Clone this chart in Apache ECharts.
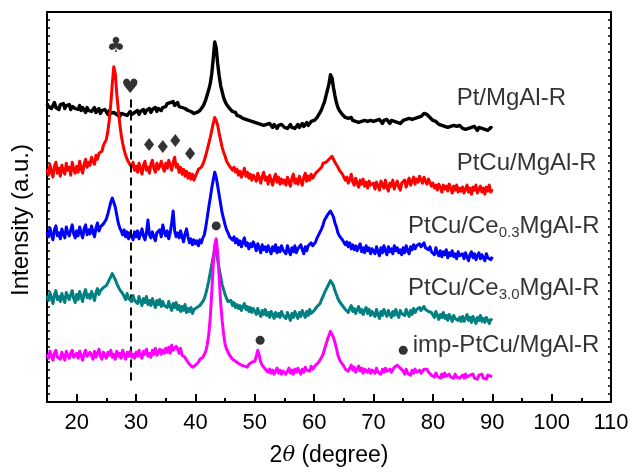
<!DOCTYPE html>
<html><head><meta charset="utf-8">
<script src="https://cdn.jsdelivr.net/npm/echarts@6/dist/echarts.min.js"></script>
<style>html,body{margin:0;padding:0;background:#fff}#c{width:632px;height:472px}</style>
</head><body><div id="c"></div>
<script>
// 2θ sampling grid: 15 .. 90 step 0.25 (301 points); each row below = 5 degrees
const thetaStart = 15, thetaStep = 0.25, nPts = 301;
const twoTheta = [];
for (let i = 0; i < nPts; i++) twoTheta.push(+(thetaStart + thetaStep * i).toFixed(2));

const seriesNames = ['Pt/MgAl-R', 'PtCu/MgAl-R', 'PtCu/Ce0.3MgAl-R', 'PtCu/Ce3.0MgAl-R', 'imp-PtCu/MgAl-R'];
const seriesColors = ['#000000', '#ff0000', '#0000ff', '#008080', '#ff00ff'];
const seriesWidths = [3.4, 3, 3, 3, 3];

const ptMgAl = [
300,297,299,295,298,301,296,298,294,299,297,300,295,298,296,299,294,297,299,295,
297,294,298,293,296,294,291,296,293,295,292,294,296,291,293,295,290,293,291,294,
292,289,293,290,288,291,293,289,291,287,290,292,289,291,288,290,292,289,287,291,
290,293,289,292,291,294,290,293,292,295,291,294,293,296,292,295,297,293,296,298,
297,300,298,301,299,302,298,300,301,297,299,296,298,295,297,293,295,292,294,290,
289,291,290,293,295,297,300,304,309,314,320,330,345,362,356,340,328,318,312,306,
302,299,297,295,294,292,290,291,288,289,287,288,285,287,284,286,283,285,282,284,
281,283,280,282,279,281,278,280,279,277,280,278,276,279,277,275,278,276,279,277,
276,278,275,277,279,276,278,275,277,279,276,278,280,277,279,281,278,280,282,281,
283,284,286,288,291,294,298,302,308,314,320,329,326,316,308,301,296,293,291,289,
288,286,287,285,284,286,283,285,282,284,281,283,282,280,283,281,282,280,283,281,
282,280,283,281,284,282,280,283,281,284,282,280,283,281,282,284,281,283,280,282,
283,281,284,282,285,283,284,286,285,287,286,288,287,289,290,288,289,287,286,284,
283,281,282,280,279,281,278,280,277,279,276,278,277,275,278,276,277,275,278,276,
275,277,274,276,275,273,276,274,277,275,273,276,274,275,277,274,276,273,275,276,
275];

const ptCuMgAl = [
234,228,239,231,226,237,241,230,235,227,238,232,229,240,233,236,228,241,234,230,
237,231,242,235,230,239,244,236,241,238,246,242,239,248,244,250,248,252,258,260,
264,272,284,300,320,337,330,310,294,280,268,260,253,248,244,241,239,236,241,233,
237,231,240,234,229,238,242,233,236,230,239,243,235,231,240,234,237,242,236,232,
240,235,243,238,233,241,246,236,239,231,236,229,234,227,232,225,230,224,229,223,
227,230,234,232,236,239,243,248,254,260,266,273,280,286,283,278,270,263,256,251,
247,242,240,237,239,233,236,231,234,228,232,226,230,235,227,231,225,229,223,228,
228,222,230,225,220,227,231,223,226,219,228,223,218,225,229,221,226,219,224,220,
223,218,226,221,217,225,229,220,224,219,227,222,218,226,230,222,227,223,229,225,
227,230,229,233,232,236,240,238,241,243,244,246,247,245,241,239,236,233,232,229,
228,223,226,220,224,229,221,218,225,220,216,223,219,224,217,221,215,222,218,220,
220,214,221,217,213,222,218,215,223,216,212,220,217,223,214,219,222,216,213,220,
218,223,216,221,225,218,222,226,219,224,221,227,223,220,226,222,219,224,221,217,
220,215,218,213,219,216,211,218,214,217,212,219,215,210,217,213,218,211,215,212,
216,210,214,218,211,215,209,216,213,218,210,214,217,211,215,209,216,212,218,211,
214];

const ptCuCe03 = [
171,166,175,168,163,173,177,167,170,164,174,169,165,176,170,167,173,178,169,165,
172,167,176,170,165,174,178,168,173,169,177,171,166,175,180,172,176,174,179,177,
184,189,195,201,205,203,196,188,180,175,172,168,173,166,171,164,170,167,163,171,
166,172,164,169,174,167,163,170,183,168,165,171,166,162,170,168,173,166,178,171,
167,172,164,170,180,192,172,166,170,165,172,166,161,169,174,166,160,164,158,163,
159,162,157,163,160,165,168,176,186,196,205,215,223,231,226,217,208,199,190,184,
178,173,170,166,168,163,166,160,164,158,162,156,161,165,157,160,154,159,156,161,
157,152,159,155,150,158,153,156,151,157,153,149,156,152,158,150,155,151,157,153,
154,149,157,152,148,155,151,157,150,154,152,158,153,149,156,152,157,155,160,157,
159,161,165,168,170,174,178,183,185,188,189,192,190,186,180,176,170,167,165,163,
163,158,161,156,160,154,158,153,157,152,156,159,151,155,150,157,152,155,149,154,
154,149,156,151,147,155,150,157,152,148,156,151,154,149,157,152,155,150,153,148,
155,150,157,152,149,156,153,158,154,157,155,159,156,158,160,155,157,153,156,151,
153,148,155,150,147,152,146,151,148,153,145,150,147,152,146,149,144,151,147,145,
149,144,150,146,142,148,151,145,149,143,147,150,144,148,146,142,149,145,147,143,
146];

const ptCuCe30 = [
107,102,110,104,99,108,112,103,106,101,109,104,100,110,106,103,108,112,104,100,
108,103,111,106,101,109,113,105,108,104,111,107,102,110,114,108,112,110,115,113,
117,120,122,126,129,127,123,119,116,113,111,109,108,103,109,104,106,101,107,102,
103,99,106,101,97,104,100,106,98,102,97,104,99,95,102,98,103,96,101,97,
99,95,101,96,92,99,95,100,93,97,91,96,92,98,90,94,91,95,89,93,
92,95,93,97,98,101,104,109,115,122,130,138,146,154,150,143,134,126,118,113,
108,104,101,99,102,97,100,95,98,94,97,92,96,99,93,96,91,95,90,94,
92,88,94,89,86,92,88,93,87,90,85,91,88,84,90,86,89,85,91,87,
88,84,90,86,82,89,85,91,87,84,90,86,92,88,85,91,87,93,89,91,
92,94,96,98,99,103,106,110,112,116,119,122,120,117,112,108,104,101,99,97,
97,93,95,90,94,97,91,94,89,93,96,90,93,88,92,95,89,93,87,91,
90,86,93,88,84,91,87,93,89,86,92,88,85,91,87,93,88,85,92,89,
91,87,93,89,86,92,88,94,90,93,91,95,92,94,96,93,94,91,93,90,
89,85,91,87,83,88,85,90,84,87,82,88,85,81,87,84,86,82,85,81,
86,81,84,88,82,85,80,86,83,79,85,82,87,81,84,80,85,82,79,83,
82];

const impPtCu = [
48,44,51,46,42,49,52,45,47,43,50,46,42,51,47,44,49,52,45,43,
49,44,51,47,42,48,52,46,44,50,47,43,51,45,49,53,46,43,50,47,
44,50,47,52,45,48,43,51,46,49,44,52,47,43,50,46,51,45,48,44,
50,46,52,47,44,51,48,53,46,49,45,52,48,54,47,50,53,48,52,49,
54,50,55,49,57,52,50,56,53,49,54,47,48,45,42,40,38,36,35,37,
37,39,40,43,42,45,47,51,58,68,85,110,138,158,164,150,125,100,82,68,
58,53,50,47,45,43,44,41,41,39,40,37,39,36,38,35,38,36,40,38,
41,46,52,47,40,37,35,33,32,30,33,29,32,28,31,34,29,32,28,31,
32,28,31,34,29,32,28,33,30,34,31,28,33,30,35,32,34,31,36,33,
35,37,38,40,41,45,48,53,58,63,67,71,69,65,60,54,47,43,40,38,
36,33,35,31,34,37,32,35,30,33,36,31,34,29,33,35,30,33,29,32,
33,29,34,30,32,28,33,30,34,31,29,33,30,32,35,33,37,38,34,32,
31,28,33,29,31,27,32,29,33,30,28,32,29,31,33,31,33,30,29,27,
28,25,29,26,27,24,28,25,29,26,24,28,25,27,24,28,25,27,24,26,
27,24,28,25,23,27,25,28,24,26,23,27,25,28,24,26,23,27,25,26,
26];

const seriesValues = [ptMgAl, ptCuMgAl, ptCuCe03, ptCuCe30, impPtCu];

// tick labels
const xTickValues = [20, 30, 40, 50, 60, 70, 80, 90, 100, 110];
const xMinorTickValues = [25, 35, 45, 55, 65, 75, 85, 95, 105];

// peak markers
const symX = [26.6, 29.0, 32.2, 34.5, 36.6, 39.1];
const symY = [357, 316, 257, 255, 261, 248];
const symText = ['♣', '♥', '♦', '♦', '♦', '♦'];
const symSize = [21, 20, 18, 18, 18, 18];
const dotX = [43.5, 50.9, 75.0];
const dotY = [177, 62, 52];

// curve labels
const labelX = [84.0, 84.0, 75.8, 75.8, 76.6];
const labelY = [305, 240, 177, 114, 57];
const labelText = [
  '{a|Pt/MgAl-R}',
  '{a|PtCu/MgAl-R}',
  '{a|PtCu/Ce}{s|0.3}{a|MgAl-R}',
  '{a|PtCu/Ce}{s|3.0}{a|MgAl-R}',
  '{a|imp-PtCu/MgAl-R}'
];
const dashX = 29.1, dashTop = 304, dashBottom = 18;

const FONT = 'Liberation Sans, Arial, sans-serif';

const lineSeries = seriesNames.map((n, k) => ({
  name: n, type: 'line', showSymbol: false, symbol: 'none',
  xAxisIndex: 0, yAxisIndex: 0,
  data: twoTheta.map((x, i) => [x, seriesValues[k][i]]),
  lineStyle: { color: seriesColors[k], width: seriesWidths[k], join: 'round' },
  itemStyle: { color: seriesColors[k] },
  animation: false, z: 2 + k
}));

const chart = echarts.init(document.getElementById('c'), null, { renderer: 'canvas' });
chart.setOption({
  animation: false,
  backgroundColor: '#fff',
  grid: { left: 47, right: 21, top: 12, bottom: 68, containLabel: false },
  xAxis: [
    {
      type: 'value', min: 15, max: 110, position: 'bottom',
      name: '2{i|θ} (degree)', nameLocation: 'middle', nameGap: 42,
      nameTextStyle: { fontFamily: FONT, fontSize: 23, color: '#000',
        rich: { i: { fontFamily: 'DejaVu Serif, serif', fontStyle: 'italic', fontSize: 21, color: '#000' } } },
      axisLine: { show: true, lineStyle: { color: '#000', width: 2 } },
      axisTick: { show: true, inside: true, length: 8, lineStyle: { color: '#000', width: 2 }, customValues: xTickValues },
      axisLabel: { show: true, fontFamily: FONT, fontSize: 22, color: '#000', margin: 10, customValues: xTickValues },
      splitLine: { show: false }
    },
    {
      type: 'value', min: 15, max: 110, position: 'bottom',
      axisLine: { show: false },
      axisTick: { show: true, inside: true, length: 4, lineStyle: { color: '#000', width: 2 }, customValues: xMinorTickValues },
      axisLabel: { show: false },
      splitLine: { show: false }
    },
    {
      type: 'value', min: 15, max: 110, position: 'top',
      axisLine: { show: true, lineStyle: { color: '#000', width: 2 } },
      axisTick: { show: false }, axisLabel: { show: false }, splitLine: { show: false }
    }
  ],
  yAxis: [
    {
      type: 'value', min: 0, max: 392, interval: 8, position: 'left',
      name: 'Intensity (a.u.)', nameLocation: 'middle', nameGap: 14,
      nameTextStyle: { fontFamily: FONT, fontSize: 24, color: '#000', padding: [0, 26, 0, 0] },
      axisLine: { show: true, lineStyle: { color: '#000', width: 2 } },
      axisTick: { show: true, inside: true, length: 3, lineStyle: { color: '#000', width: 1.5 } },
      axisLabel: { show: false }, splitLine: { show: false }
    },
    {
      type: 'value', min: 0, max: 392, interval: 8, position: 'right',
      axisLine: { show: true, lineStyle: { color: '#000', width: 2 } },
      axisTick: { show: true, inside: true, length: 3, lineStyle: { color: '#000', width: 1.5 } },
      axisLabel: { show: false }, splitLine: { show: false }
    }
  ],
  series: [
    ...lineSeries,
    {
      type: 'scatter', name: 'markers', xAxisIndex: 0, yAxisIndex: 0,
      symbolSize: 0, z: 10, silent: true,
      data: symX.map((x, i) => ({ value: [x, symY[i]], label: { formatter: symText[i], fontSize: symSize[i] } })),
      label: { show: true, position: 'inside', fontFamily: 'DejaVu Sans, sans-serif', fontSize: 18, color: '#000' },
      markLine: {
        silent: true, symbol: 'none', animation: false,
        lineStyle: { color: '#000', width: 2, type: [8, 5] },
        label: { show: false },
        data: [[{ coord: [dashX, dashTop] }, { coord: [dashX, dashBottom] }]]
      }
    },
    {
      type: 'scatter', name: 'dots', xAxisIndex: 0, yAxisIndex: 0,
      symbol: 'circle', symbolSize: 9, z: 10, silent: true,
      itemStyle: { color: '#000' },
      data: dotX.map((x, i) => [x, dotY[i]])
    },
    {
      type: 'scatter', name: 'labels', xAxisIndex: 0, yAxisIndex: 0,
      symbolSize: 0, z: 10, silent: true,
      data: labelX.map((x, i) => ({ value: [x, labelY[i]], label: { formatter: labelText[i] } })),
      label: {
        show: true, position: 'right', distance: 0, color: '#000',
        rich: {
          a: { fontFamily: FONT, fontSize: 24, lineHeight: 28, color: '#000', verticalAlign: 'middle' },
          s: { fontFamily: FONT, fontSize: 15, lineHeight: 10, color: '#000', verticalAlign: 'bottom' }
        }
      }
    }
  ]
});
</script></body></html>
